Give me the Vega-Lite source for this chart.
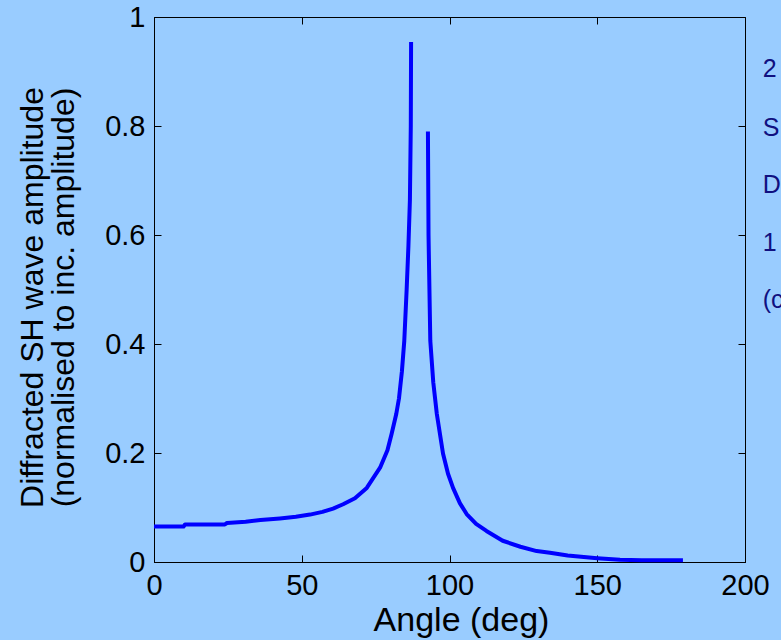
{
  "$schema": "https://vega.github.io/schema/vega-lite/v6.json",
  "width": 591,
  "height": 545,
  "autosize": {"type": "none"},
  "padding": {"left": 154, "top": 17, "right": 36, "bottom": 78},
  "background": "#99CCFF",
  "config": {
    "view": {"stroke": "black", "strokeWidth": 1},
    "font": "Liberation Sans",
    "axis": {
      "grid": false,
      "domainColor": "black",
      "domainWidth": 1,
      "tickColor": "black",
      "tickWidth": 1,
      "labelColor": "black",
      "titleColor": "black",
      "titleFontWeight": "normal",
      "labelFont": "Liberation Sans",
      "titleFont": "Liberation Sans",
      "labelFlush": false,
      "labelOverlap": false
    }
  },
  "datasets": {
    "curve": [
      {"branch": "L", "angle": 0, "amp": 0.065},
      {"branch": "L", "angle": 10, "amp": 0.065},
      {"branch": "L", "angle": 10.5, "amp": 0.069},
      {"branch": "L", "angle": 24, "amp": 0.069},
      {"branch": "L", "angle": 24.7, "amp": 0.0715},
      {"branch": "L", "angle": 31, "amp": 0.074},
      {"branch": "L", "angle": 36, "amp": 0.077},
      {"branch": "L", "angle": 42.6, "amp": 0.08},
      {"branch": "L", "angle": 48, "amp": 0.083},
      {"branch": "L", "angle": 52.8, "amp": 0.087},
      {"branch": "L", "angle": 57, "amp": 0.092},
      {"branch": "L", "angle": 60.6, "amp": 0.098},
      {"branch": "L", "angle": 64, "amp": 0.106},
      {"branch": "L", "angle": 68, "amp": 0.117},
      {"branch": "L", "angle": 72, "amp": 0.136},
      {"branch": "L", "angle": 76.5, "amp": 0.173},
      {"branch": "L", "angle": 79, "amp": 0.205},
      {"branch": "L", "angle": 80.4, "amp": 0.235},
      {"branch": "L", "angle": 82, "amp": 0.272},
      {"branch": "L", "angle": 82.9, "amp": 0.3},
      {"branch": "L", "angle": 83.9, "amp": 0.35},
      {"branch": "L", "angle": 84.7, "amp": 0.406},
      {"branch": "L", "angle": 85.5, "amp": 0.5},
      {"branch": "L", "angle": 86.1, "amp": 0.58},
      {"branch": "L", "angle": 86.6, "amp": 0.664},
      {"branch": "L", "angle": 86.9, "amp": 0.8},
      {"branch": "L", "angle": 87.0, "amp": 0.954},
      {"branch": "R", "angle": 92.7, "amp": 0.79},
      {"branch": "R", "angle": 92.9, "amp": 0.6},
      {"branch": "R", "angle": 93.5, "amp": 0.406},
      {"branch": "R", "angle": 94.5, "amp": 0.33},
      {"branch": "R", "angle": 95.7, "amp": 0.272},
      {"branch": "R", "angle": 97.8, "amp": 0.199},
      {"branch": "R", "angle": 99.5, "amp": 0.162},
      {"branch": "R", "angle": 101.2, "amp": 0.136},
      {"branch": "R", "angle": 103.5, "amp": 0.108},
      {"branch": "R", "angle": 105.8, "amp": 0.088},
      {"branch": "R", "angle": 109, "amp": 0.07},
      {"branch": "R", "angle": 112.5, "amp": 0.057},
      {"branch": "R", "angle": 118, "amp": 0.039},
      {"branch": "R", "angle": 124, "amp": 0.028},
      {"branch": "R", "angle": 129.5, "amp": 0.02},
      {"branch": "R", "angle": 134, "amp": 0.017},
      {"branch": "R", "angle": 140, "amp": 0.012},
      {"branch": "R", "angle": 150, "amp": 0.007},
      {"branch": "R", "angle": 157.7, "amp": 0.004},
      {"branch": "R", "angle": 165, "amp": 0.003},
      {"branch": "R", "angle": 179, "amp": 0.003}
    ],
    "side": [
      {"label": "2", "x": 206, "y": 0.904},
      {"label": "S", "x": 206, "y": 0.797},
      {"label": "D", "x": 206, "y": 0.692},
      {"label": "1", "x": 206, "y": 0.586},
      {"label": "(c", "x": 206, "y": 0.481}
    ]
  },
  "layer": [
    {
      "data": {"name": "curve"},
      "mark": {"type": "line", "color": "#0000FF", "strokeWidth": 4, "strokeJoin": "round"},
      "encoding": {
        "x": {
          "field": "angle", "type": "quantitative",
          "scale": {"domain": [0, 200], "nice": false, "zero": false},
          "axis": {
            "orient": "bottom", "values": [0, 50, 100, 150, 200],
            "tickSize": -7, "labelPadding": 16, "labelFontSize": 29,
            "title": "Angle (deg)", "titleFontSize": 34, "titlePadding": 3, "titleX": 307
          }
        },
        "y": {
          "field": "amp", "type": "quantitative",
          "scale": {"domain": [0, 1], "nice": false},
          "axis": {
            "orient": "left", "values": [0, 0.2, 0.4, 0.6, 0.8, 1], "format": "~g",
            "tickSize": -7, "labelPadding": 16, "labelFontSize": 29,
            "title": ["Diffracted SH wave amplitude", "(normalised to inc. amplitude)"],
            "titleFontSize": 32, "titleLineHeight": 31, "titlePadding": 24, "titleY": 280
          }
        },
        "detail": {"field": "branch"}
      }
    },
    {
      "data": {"name": "side"},
      "mark": {"type": "text", "align": "left", "baseline": "middle", "fontSize": 25, "color": "#101080", "font": "Liberation Sans"},
      "encoding": {
        "x": {
          "field": "x", "type": "quantitative",
          "axis": {"orient": "top", "values": [0, 50, 100, 150, 200], "labels": false, "domain": false, "tickSize": -7, "title": null}
        },
        "y": {
          "field": "y", "type": "quantitative",
          "axis": {"orient": "right", "values": [0, 0.2, 0.4, 0.6, 0.8, 1], "labels": false, "domain": false, "tickSize": -7, "title": null}
        },
        "text": {"field": "label"}
      }
    }
  ],
  "resolve": {"axis": {"x": "independent", "y": "independent"}}
}
